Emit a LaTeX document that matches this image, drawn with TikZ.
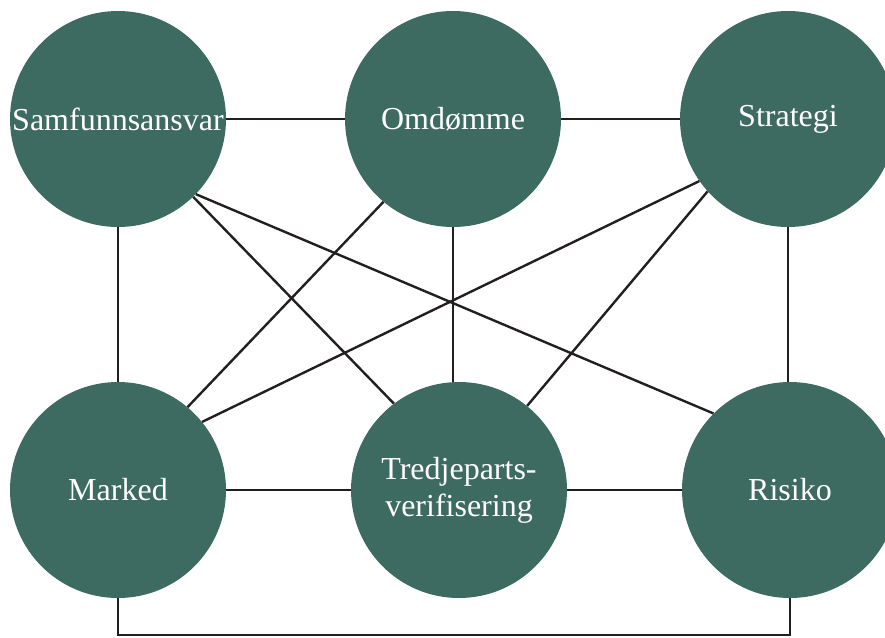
\documentclass[tikz,border=0pt]{standalone}
\usepackage{fontspec}
\setmainfont{Liberation Serif}
\definecolor{circfill}{RGB}{61,107,98}
\definecolor{linecol}{RGB}{35,31,32}
\begin{document}
\begin{tikzpicture}[x=1pt,y=-1pt,
  topic/.style={circle, fill=circfill, text=white, minimum size=216pt, inner sep=0pt,
    font=\fontsize{32}{37}\selectfont, align=center},
  link/.style={draw=linecol, line width=2.4pt}]
\useasboundingbox (0,0) rectangle (885,637);
\node[topic] (S) at (118,119) {Samfunnsansvar};
\node[topic] (O) at (453,119) {Omdømme};
\node[topic] (St) at (788,119) {Strategi};
\node[topic] (M) at (118,490) {Marked};
\node[topic] (T) at (459,490) {Tredjeparts-\\verifisering};
\node[topic] (R) at (790,490) {Risiko};
% horizontals
\draw[link] (S.east) -- (O.west);
\draw[link] (O.east) -- (St.west);
\draw[link] (M.east) -- (T.west);
\draw[link] (T.east) -- (R.west);
% verticals
\draw[link] (S.south) -- (M.north);
\draw[link] (O.south) -- (O.south |- T.north);
\draw[link] (St.south) -- (St.south |- R.north);
% diagonals
\draw[link] (S.314) -- (T.127);
\draw[link] (S.316) -- (R.135);
\draw[link] (O.230) -- (M.50);
\draw[link] (St.215) -- (M.39);
\draw[link] (St.222) -- (T.51);
% bottom connector
\draw[link] (M.south) -- ++(0,37) -| (R.south);
\end{tikzpicture}
\end{document}
